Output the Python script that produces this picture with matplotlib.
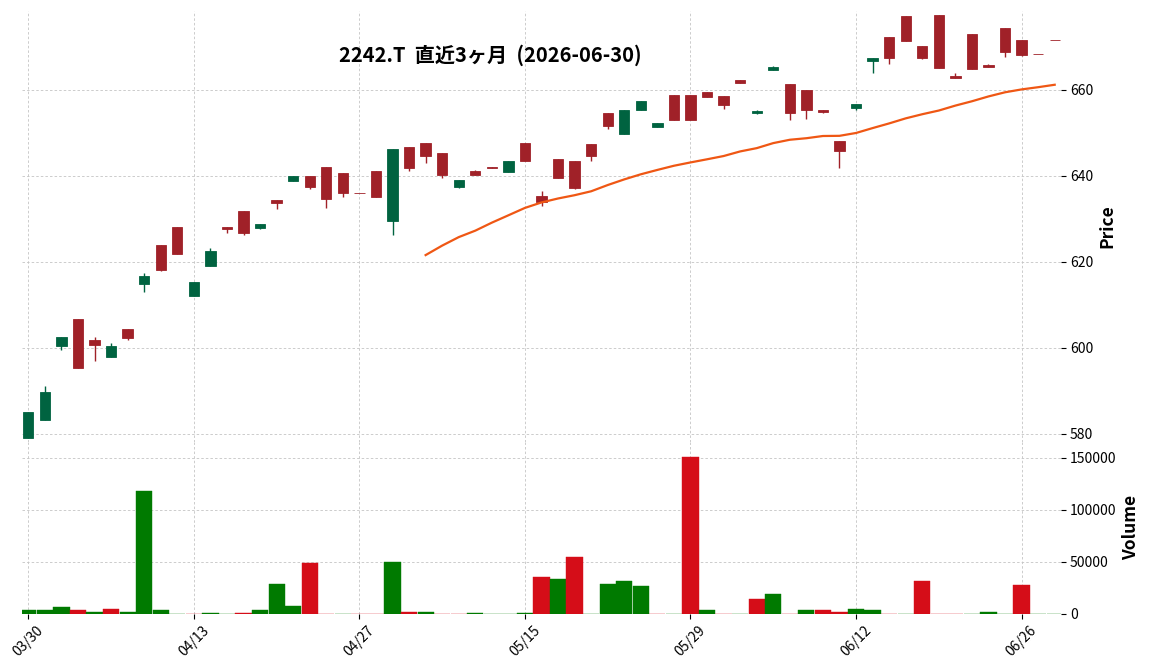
import numpy as np
import pandas as pd
import matplotlib
matplotlib.use("Agg")
import matplotlib.pyplot as plt
from matplotlib.ticker import FixedLocator

plt.rcParams['font.family'] = ['Noto Sans CJK JP', 'DejaVu Sans']

title = "2242.T  直近3ヶ月  (2026-06-30)"
holidays = ["2026-04-29", "2026-05-04", "2026-05-05", "2026-05-06"]
dates = pd.bdate_range("2026-03-30", "2026-06-30", freq="C", holidays=holidays)

# OHLC (green = up, red = down)
opens = np.array([
    579.0, 583.2, 600.4, 606.8, 601.9, 597.8, 604.3, 614.8, 624.0, 628.0,
    612.0, 619.0, 628.0, 631.9, 627.8, 634.3, 638.8, 640.0, 642.1, 640.7,
    636.1, 641.2, 629.4, 646.7, 647.7, 645.3, 637.4, 641.2, 642.0, 640.9,
    647.7, 635.3, 644.0, 643.4, 647.3, 654.6, 649.7, 655.3, 651.4, 658.9,
    658.9, 659.6, 658.5, 662.4, 654.6, 664.7, 661.3, 659.9, 655.2, 648.0,
    655.7, 666.7, 672.4, 677.1, 670.1, 677.5, 663.3, 672.9, 665.7, 674.3,
    671.7, 668.4, 671.6])
highs = np.array([
    585.0, 591.2, 602.6, 606.8, 602.6, 601.2, 604.3, 617.4, 624.0, 628.0,
    615.2, 623.3, 628.0, 631.9, 628.7, 634.3, 640.0, 640.0, 642.1, 640.7,
    636.1, 641.2, 646.3, 646.7, 647.7, 645.3, 639.1, 641.4, 642.0, 643.4,
    647.7, 636.4, 644.0, 643.4, 647.3, 654.6, 655.4, 657.3, 652.2, 658.9,
    658.9, 659.6, 658.5, 662.4, 655.4, 665.6, 661.3, 659.9, 655.2, 648.0,
    656.8, 667.5, 672.4, 677.1, 670.1, 677.5, 664.0, 672.9, 665.9, 674.3,
    671.7, 668.4, 671.6])
lows = np.array([
    579.0, 583.2, 599.5, 595.4, 597.0, 597.8, 601.8, 613.0, 617.8, 621.8,
    612.0, 619.0, 626.7, 626.3, 627.6, 632.3, 638.8, 636.9, 632.5, 635.0,
    635.9, 635.1, 626.2, 641.2, 642.9, 639.6, 637.1, 640.2, 641.9, 640.9,
    643.5, 632.9, 639.4, 637.0, 643.4, 651.0, 649.7, 655.3, 651.4, 652.9,
    652.9, 658.3, 655.5, 661.5, 654.3, 664.5, 653.1, 653.2, 654.5, 641.8,
    655.3, 664.0, 666.0, 671.3, 667.2, 665.0, 662.7, 664.8, 665.3, 667.6,
    667.8, 668.3, 671.5])
closes = np.array([
    585.0, 589.8, 602.6, 595.4, 600.6, 600.5, 602.2, 616.6, 618.1, 621.8,
    615.2, 622.6, 627.6, 626.8, 628.7, 633.6, 640.0, 637.5, 634.7, 635.9,
    635.9, 635.1, 646.3, 641.9, 644.7, 640.2, 639.1, 640.2, 641.9, 643.4,
    643.5, 634.0, 639.6, 637.2, 644.6, 651.5, 655.4, 657.3, 652.2, 652.9,
    652.9, 658.3, 656.4, 661.5, 655.0, 665.2, 654.6, 655.2, 654.8, 645.7,
    656.8, 667.5, 667.4, 671.3, 667.4, 665.0, 662.7, 664.8, 665.3, 668.7,
    668.2, 668.3, 671.5])
volumes = np.array([
    2900, 3800, 5800, 2900, 1000, 4800, 1000, 118000, 3800, 0,
    0, 800, 0, 600, 2900, 28800, 7000, 49000, 0, 0,
    0, 0, 50000, 1900, 1000, 0, 0, 800, 0, 0,
    800, 35500, 33600, 54000, 0, 28000, 31700, 26300, 0, 0,
    150300, 3800, 0, 0, 14400, 19200, 0, 3800, 2900, 1900,
    4800, 3800, 0, 0, 31700, 0, 0, 0, 1900, 0,
    27000, 0, 0])

x = np.arange(len(closes))
ma25 = pd.Series(closes).rolling(25).mean()

up = closes > opens
ccol = np.where(up, '#006340', '#a02128')
# volume colour follows close vs previous close
vup = np.concatenate([[up[0]], closes[1:] > closes[:-1]])
vcol = np.where(vup, '#007a00', '#d50d18')

fig = plt.figure(figsize=(11.52, 6.70), dpi=100)
W, H = 1152, 670
ax1 = fig.add_axes([22 / W, 228.3 / H, 1039 / W, 430.7 / H])
ax2 = fig.add_axes([22 / W, 56.5 / H, 1039 / W, 171.8 / H], sharex=ax1)

# candles
ax1.vlines(x, lows, highs, colors=ccol, linewidth=1.0, zorder=3)
ax1.bar(x, np.abs(closes - opens), 0.62, bottom=np.minimum(opens, closes),
        color=ccol, edgecolor=ccol, linewidth=0.6, zorder=3)
ax1.plot(x, ma25, color='#ef5714', linewidth=1.6, zorder=4)

rng = highs.max() - lows.min()
ax1.set_ylim(lows.min() - 0.0085 * rng, highs.max() + 0.0085 * rng)
ax1.set_xlim(-0.38, len(x) - 1 + 0.38)

# volume
ax2.bar(x, volumes, 0.98, color=vcol, edgecolor=vcol, linewidth=0.3, zorder=3)
ax2.set_ylim(0, volumes.max() * 1.1)
ax2.set_yticks([0, 50000, 100000, 150000])
ax2.set_yticklabels(['0', '50000', '100000', '150000'])

tick_idx = list(range(0, len(x), 10))
ax2.xaxis.set_major_locator(FixedLocator(tick_idx))
ax2.set_xticklabels([dates[i].strftime('%m/%d') for i in tick_idx],
                    rotation=45, ha='center')
ax1.tick_params(axis='x', labelbottom=False, length=0)

for ax in (ax1, ax2):
    for s in ax.spines.values():
        s.set_visible(False)
    ax.yaxis.tick_right()
    ax.yaxis.set_label_position('right')
    ax.grid(True, linestyle=(0, (3, 2.5)), color='#c4c4c4', linewidth=0.6)
    ax.set_axisbelow(True)
    ax.tick_params(axis='y', length=3.5, labelsize=10, pad=3)
ax2.tick_params(axis='x', length=3.5, labelsize=10)

ax1.set_ylabel('Price', fontsize=12.5, fontweight='bold')
ax2.set_ylabel('Volume', fontsize=12.5, fontweight='bold')

fig.text(490 / W, 1 - 55 / H, title, ha='center', va='center',
         fontsize=14.5, fontweight='bold')

fig.savefig('out.png', dpi=100)
